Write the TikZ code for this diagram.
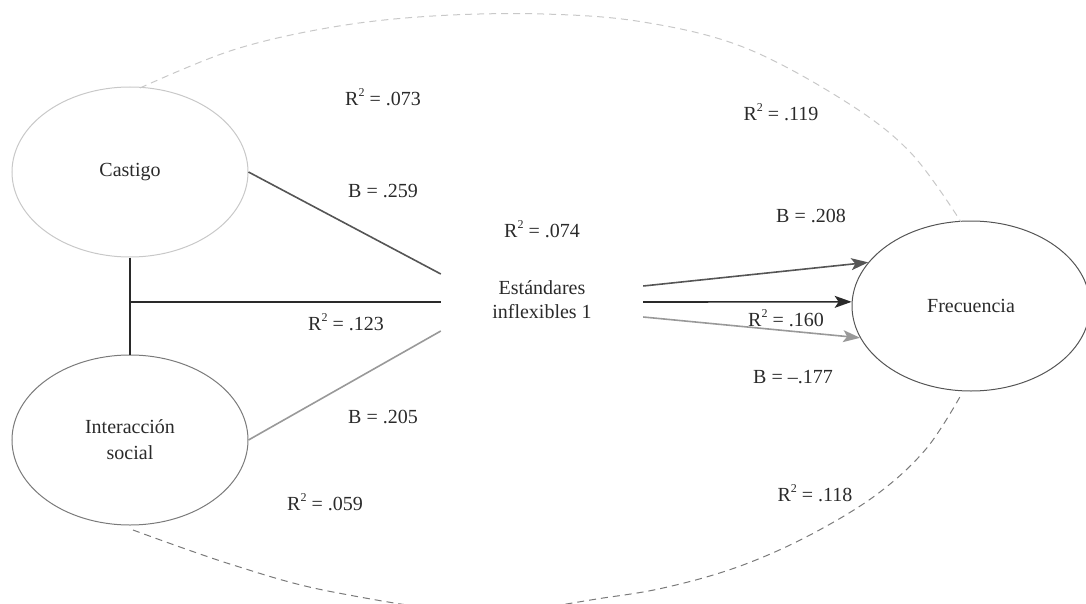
\documentclass[tikz,border=0pt]{standalone}
\usepackage{fontspec}
\setmainfont{Liberation Serif}
\usetikzlibrary{arrows.meta,shapes.geometric}
\definecolor{lightc}{HTML}{C8C8C8}
\definecolor{midc}{HTML}{7A7A7A}
\definecolor{darkc}{HTML}{555555}
\definecolor{blackc}{HTML}{2A2A2A}
\definecolor{grayc}{HTML}{999999}
\newcommand{\rsq}{R\raisebox{0.42em}{\fontsize{12}{12}\selectfont 2}}
\begin{document}
\begin{tikzpicture}[x=1pt,y=-1pt,
  every node/.style={font=\fontsize{20}{24}\selectfont, text=blackc},
  latent/.style={ellipse, draw, line width=1pt, inner sep=0pt, align=center},
  lbl/.style={inner sep=0pt},
  path/.style={line width=1.6pt},
  arr/.style={line width=1.6pt, -{Stealth[length=17pt,width=12pt,inset=4pt]}},
  covar/.style={dashed, line width=1pt, dash pattern=on 7pt off 5pt}
]
\useasboundingbox (0,0) rectangle (1086,604);
% nodes
\node[latent, draw=lightc, minimum width=236pt, minimum height=170pt] (castigo) at (130,172) {Castigo};
\node[latent, draw=midc, minimum width=236pt, minimum height=170pt, font=\fontsize{20}{26}\selectfont] (inter) at (130,440) {Interacción\\social};
\node[latent, draw=darkc, minimum width=238pt, minimum height=170pt] (frec) at (971,306) {Frecuencia};
\node[align=center, minimum width=202pt, minimum height=70pt, inner sep=0pt] (est) at (542,300) {Estándares\\inflexibles 1};
% covariance curves
\draw[covar, draw=lightc] plot[smooth, tension=0.6] coordinates {(140,88) (233,50) (333,27) (433,16) (543,14) (643,22) (743,47) (843,100) (910,152) (961,222)};
\draw[covar, draw=midc] plot[smooth, tension=0.6] coordinates {(133,530) (233,565) (333,592) (480,612) (610,597) (676,585) (743,565) (810,535) (876,495) (926,449) (961,395)};
% paths
\draw[path, draw=darkc] (castigo.east) -- ([yshift=26pt]est.west);
\draw[path, draw=grayc] (inter.east) -- ([yshift=-31pt]est.west);
\draw[path, draw=blackc] (castigo.south) -- (inter.north);
\draw[path, draw=blackc] ([yshift=-2pt]castigo.south |- est.west) -- ([yshift=-2pt]est.west);
\draw[arr, draw=darkc, fill=darkc] ([yshift=14pt]est.east) -- (frec.157);
\draw[arr, draw=blackc, fill=blackc] ([yshift=-2pt]est.east) -- (frec.178);
\draw[arr, draw=grayc, fill=grayc] ([yshift=-17pt]est.east) -- (frec.196);
% labels
\node[lbl] (l1) at (383,97) {\rsq{} = .073};
\node[lbl] (l2) at (383,191) {B = .259};
\node[lbl] (l3) at (542,229) {\rsq{} = .074};
\node[lbl] (l4) at (781,112) {\rsq{} = .119};
\node[lbl] (l5) at (811,216) {B = .208};
\node[lbl] (l6) at (346,322) {\rsq{} = .123};
\node[lbl] (l7) at (786,318) {\rsq{} = .160};
\node[lbl] (l8) at (793,377) {B = \textendash.177};
\node[lbl] (l9) at (383,417) {B = .205};
\node[lbl] (l10) at (325,502) {\rsq{} = .059};
\node[lbl] (l11) at (815,493) {\rsq{} = .118};
\end{tikzpicture}
\end{document}
